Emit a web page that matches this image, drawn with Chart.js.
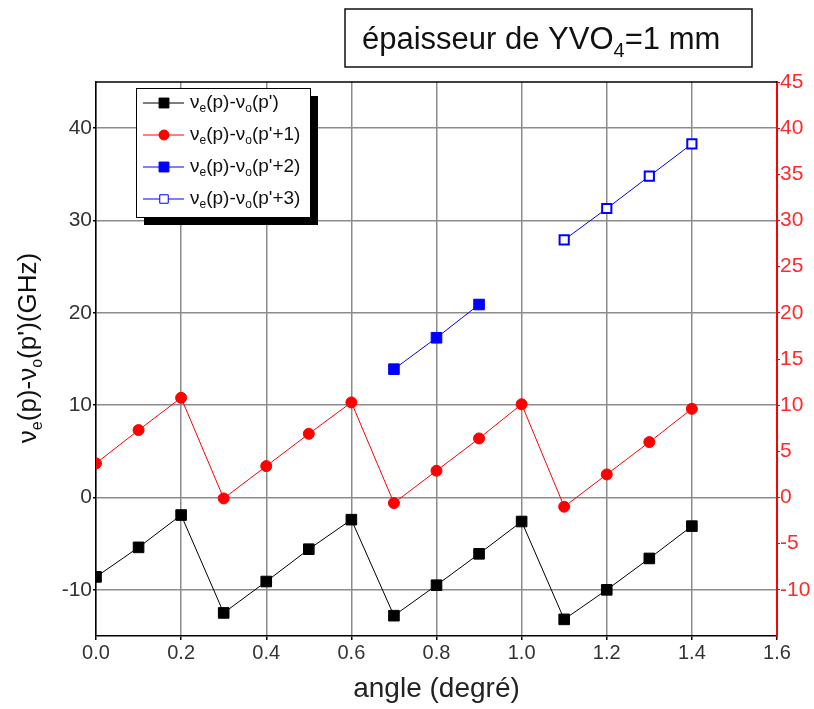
<!DOCTYPE html>
<html>
<head>
<meta charset="utf-8">
<script src="https://cdn.jsdelivr.net/npm/chart.js@4.4.1/dist/chart.umd.min.js"></script>
<style>
  html, body { margin: 0; padding: 0; background: #fff; }
  #wrap { position: relative; width: 814px; height: 709px; }
</style>
</head>
<body>
<div id="wrap"><canvas id="chart" width="814" height="709"></canvas></div>
<script>
  'use strict'

  // angle (degré)
  var angles = [0.0, 0.1, 0.2, 0.3, 0.4, 0.5, 0.6, 0.7, 0.8, 0.9, 1.0, 1.1, 1.2, 1.3, 1.4]
  // νe(p)-νo(p')
  var diffP = [-8.6, -5.4, -1.9, -12.5, -9.1, -5.6, -2.4, -12.8, -9.5, -6.1, -2.6, -13.2, -10.0, -6.6, -3.1]
  // νe(p)-νo(p'+1)
  var diffP1 = [3.7, 7.3, 10.8, -0.1, 3.4, 6.9, 10.3, -0.6, 2.9, 6.4, 10.1, -1.0, 2.5, 6.0, 9.6]
  // νe(p)-νo(p'+2)
  var anglesP2 = [0.7, 0.8, 0.9]
  var diffP2 = [13.9, 17.3, 20.9]
  // νe(p)-νo(p'+3)
  var anglesP3 = [1.1, 1.2, 1.3, 1.4]
  var diffP3 = [27.9, 31.3, 34.8, 38.3]

  var seriesLabels = ["νₑ(p)-νₒ(p')", "νₑ(p)-νₒ(p'+1)", "νₑ(p)-νₒ(p'+2)", "νₑ(p)-νₒ(p'+3)"]
  var xTicks = [0.0, 0.2, 0.4, 0.6, 0.8, 1.0, 1.2, 1.4, 1.6]
  var leftTicks = [-10, 0, 10, 20, 30, 40]
  var rightTicks = [-10, -5, 0, 5, 10, 15, 20, 25, 30, 35, 40, 45]

  var FONT = "'Liberation Sans', Arial, sans-serif"

  function pts(xs, ys) {
    return xs.map(function (x, i) { return { x: x, y: ys[i] } })
  }

  // texte avec indices (ₑ, ₒ, ₄) dessiné morceau par morceau
  var SUBS = { 'ₑ': 'e', 'ₒ': 'o', '₄': '4' }
  function splitRich(str) {
    var parts = []
    var cur = ''
    for (var ch of str) {
      if (SUBS[ch]) {
        if (cur) parts.push({ t: cur, sub: false })
        parts.push({ t: SUBS[ch], sub: true })
        cur = ''
      } else {
        cur += ch
      }
    }
    if (cur) parts.push({ t: cur, sub: false })
    return parts
  }
  function richWidth(ctx, parts, size, subSize) {
    var w = 0
    parts.forEach(function (p) {
      ctx.font = (p.sub ? subSize : size) + 'px ' + FONT
      w += ctx.measureText(p.t).width
    })
    return w
  }
  function drawRich(ctx, str, x, y, size, subSize, subDy) {
    var parts = splitRich(str)
    parts.forEach(function (p) {
      ctx.font = (p.sub ? subSize : size) + 'px ' + FONT
      ctx.fillText(p.t, x, p.sub ? y + subDy : y)
      x += ctx.measureText(p.t).width
    })
  }

  var decorPlugin = {
    id: 'decor',
    afterDraw: function (chart) {
      var ctx = chart.ctx
      var area = chart.chartArea
      ctx.save()

      // cadre du haut
      ctx.strokeStyle = '#000'
      ctx.lineWidth = 1.5
      ctx.beginPath()
      ctx.moveTo(area.left, area.top)
      ctx.lineTo(area.right, area.top)
      ctx.stroke()

      // boîte de titre
      ctx.strokeStyle = '#111'
      ctx.lineWidth = 1.5
      ctx.strokeRect(345, 9, 407, 58)
      ctx.fillStyle = '#111'
      ctx.textBaseline = 'alphabetic'
      ctx.textAlign = 'left'
      drawRich(ctx, 'épaisseur de YVO₄=1 mm', 362, 49, 31, 20, 8)

      // titre de l'axe y
      var yTitle = "νₑ(p)-νₒ(p')(GHz)"
      var parts = splitRich(yTitle)
      var w = richWidth(ctx, parts, 26, 16)
      ctx.translate(36, 348)
      ctx.rotate(-Math.PI / 2)
      ctx.fillStyle = '#111'
      drawRich(ctx, yTitle, -w / 2, 0, 26, 16, 6)
      ctx.setTransform(1, 0, 0, 1, 0, 0)

      // légende
      var lx = 136, ly = 88, lw = 174, lh = 129
      ctx.fillStyle = '#000'
      ctx.fillRect(lx + 8, ly + 8, lw, lh)
      ctx.fillStyle = '#fff'
      ctx.fillRect(lx, ly, lw, lh)
      ctx.strokeStyle = '#000'
      ctx.lineWidth = 1
      ctx.strokeRect(lx + 0.5, ly + 0.5, lw, lh)

      chart.data.datasets.forEach(function (ds, i) {
        var ry = ly + 15 + i * 32
        ctx.strokeStyle = ds.borderColor
        ctx.lineWidth = 1
        ctx.beginPath()
        ctx.moveTo(lx + 7, ry)
        ctx.lineTo(lx + 48, ry)
        ctx.stroke()
        ctx.fillStyle = ds.pointBackgroundColor
        ctx.strokeStyle = ds.borderColor
        Chart.helpers.drawPoint(ctx, {
          pointStyle: ds.pointStyle,
          rotation: 0,
          radius: ds.pointRadius - 0.5,
          borderWidth: ds.pointBorderWidth
        }, lx + 28, ry)
        ctx.fillStyle = '#111'
        ctx.textBaseline = 'middle'
        drawRich(ctx, ds.label, lx + 54, ry, 19, 12, 6)
      })

      ctx.restore()
    }
  }

  var chartData = {
    datasets: [
      {
        label: seriesLabels[0],
        data: pts(angles, diffP),
        borderColor: '#000',
        backgroundColor: '#000',
        pointBackgroundColor: '#000',
        pointStyle: 'rect',
        pointRadius: 7.5,
        pointBorderWidth: 1,
        borderWidth: 1,
        yAxisID: 'y'
      },
      {
        label: seriesLabels[1],
        data: pts(angles, diffP1),
        borderColor: '#ff0000',
        backgroundColor: '#ff0000',
        pointBackgroundColor: '#ff0000',
        pointStyle: 'circle',
        pointRadius: 5.5,
        pointBorderWidth: 1,
        borderWidth: 1,
        yAxisID: 'y2'
      },
      {
        label: seriesLabels[2],
        data: pts(anglesP2, diffP2),
        borderColor: '#0000ff',
        backgroundColor: '#0000ff',
        pointBackgroundColor: '#0000ff',
        pointStyle: 'rect',
        pointRadius: 7.5,
        pointBorderWidth: 1,
        borderWidth: 1,
        yAxisID: 'y'
      },
      {
        label: seriesLabels[3],
        data: pts(anglesP3, diffP3),
        borderColor: '#0000ff',
        backgroundColor: '#ffffff',
        pointBackgroundColor: '#ffffff',
        pointStyle: 'rect',
        pointRadius: 6.5,
        pointBorderWidth: 2,
        borderWidth: 1,
        yAxisID: 'y'
      }
    ]
  }

  var chart = new Chart(document.getElementById('chart').getContext('2d'), {
    type: 'line',
    data: chartData,
    plugins: [decorPlugin],
    options: {
      responsive: false,
      animation: false,
      layout: { padding: { top: 82, left: 0, right: 0, bottom: 0 } },
      plugins: {
        legend: { display: false },
        tooltip: { enabled: false }
      },
      elements: { line: { tension: 0 } },
      scales: {
        x: {
          type: 'linear',
          min: 0,
          max: 1.6,
          afterBuildTicks: function (scale) {
            scale.ticks = xTicks.map(function (v) { return { value: v } })
          },
          afterFit: function (scale) { scale.height = 73 },
          grid: { color: '#8c8c8c', lineWidth: 1.5, tickLength: 4, tickColor: '#000' },
          border: { color: '#000', width: 1.5 },
          ticks: {
            padding: 1,
            maxRotation: 0,
            autoSkip: false,
            color: '#333',
            font: { family: FONT, size: 20 },
            callback: function (v) { return Number(v).toFixed(1) }
          },
          title: {
            display: true,
            text: 'angle (degré)',
            color: '#222',
            font: { family: FONT, size: 28 },
            padding: { top: 0, bottom: 3 }
          }
        },
        y: {
          position: 'left',
          min: -15,
          max: 45,
          afterBuildTicks: function (scale) {
            scale.ticks = leftTicks.map(function (v) { return { value: v } })
          },
          afterFit: function (scale) { scale.width = 96 },
          grid: { color: '#8c8c8c', lineWidth: 1.5, tickLength: 3, tickColor: '#000' },
          border: { color: '#000', width: 1.5 },
          ticks: {
            padding: 1,
            color: '#333',
            font: { family: FONT, size: 21 }
          }
        },
        y2: {
          position: 'right',
          min: -15,
          max: 45,
          afterBuildTicks: function (scale) {
            scale.ticks = rightTicks.map(function (v) { return { value: v } })
          },
          afterFit: function (scale) { scale.width = 37 },
          grid: { drawOnChartArea: false, tickLength: 3, tickColor: '#ff0000' },
          border: { color: '#ff0000', width: 2 },
          ticks: {
            padding: 0,
            color: '#ff2a2a',
            font: { family: FONT, size: 21 }
          }
        }
      }
    }
  })
</script>
</body>
</html>
